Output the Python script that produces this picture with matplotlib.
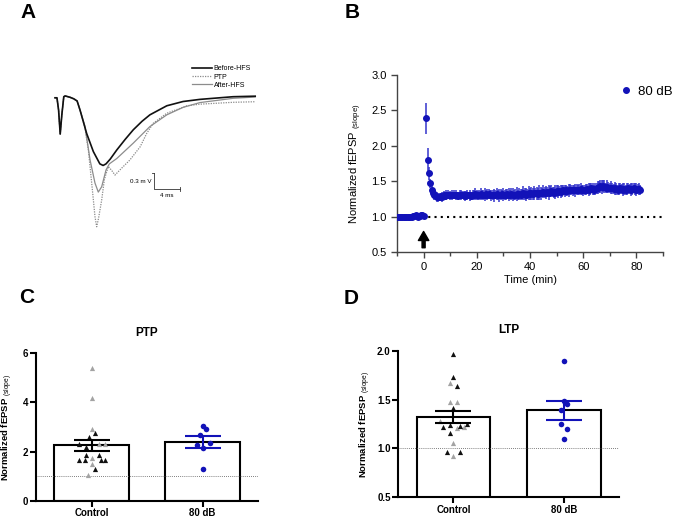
import numpy as np
import matplotlib
matplotlib.use('Agg')
import matplotlib.pyplot as plt
from matplotlib.lines import Line2D

plt.rcParams['font.family'] = ['Liberation Sans', 'DejaVu Sans']
plt.rcParams['mathtext.fontset'] = 'custom'
plt.rcParams['mathtext.rm'] = 'Liberation Sans'
plt.rcParams['mathtext.it'] = 'Liberation Sans:italic'
plt.rcParams['mathtext.bf'] = 'Liberation Sans:bold'

# Panel A: example fEPSP traces (time in ms, voltage in mV)
before_t = [0, 0.3, 0.55, 0.8, 1.05, 1.35, 1.55, 2.3, 2.9, 3.4, 3.85, 4.87, 5.9, 6.9, 7.4,
            7.85, 8.5, 9.5, 10.8, 12.05, 13.4, 14.6, 17.2, 19.7, 22.3, 27.4, 30.8]
before_v = [-0.02, -0.02, -0.25, -0.70, -0.34, 0.0, 0.015, -0.01, -0.04, -0.08, -0.25, -0.69,
            -1.03, -1.26, -1.29, -1.26, -1.17, -1.0, -0.80, -0.62, -0.46, -0.34, -0.17, -0.09,
            -0.05, 0.0, 0.01]
after_t = [0, 0.3, 0.55, 0.8, 1.05, 1.35, 1.55, 2.3, 2.9, 3.4, 3.85, 4.6, 5.4, 6.15, 6.66,
           7.18, 7.85, 8.36, 9.5, 12.05, 14.6, 17.2, 19.7, 22.3, 27.4, 30.8]
after_v = [-0.02, -0.02, -0.25, -0.70, -0.34, 0.0, 0.015, -0.01, -0.04, -0.08, -0.25, -0.55,
           -1.19, -1.62, -1.79, -1.69, -1.375, -1.26, -1.16, -0.87, -0.56, -0.34, -0.20, -0.11,
           -0.03, -0.006]
ptp_t = [0, 0.3, 0.55, 0.8, 1.05, 1.35, 1.55, 2.3, 2.9, 3.4, 3.85, 4.6, 5.13, 5.8, 6.15, 6.41,
         6.7, 7.18, 7.6, 8.2, 8.7, 9.23, 10.26, 11.5, 13.1, 14.1, 15.1, 17.2, 20.3, 22.3, 27.4, 30.8]
ptp_v = [-0.02, -0.02, -0.25, -0.70, -0.34, 0.0, 0.015, -0.01, -0.04, -0.08, -0.25, -0.58,
         -1.0, -1.81, -2.25, -2.44, -2.28, -1.94, -1.55, -1.31, -1.38, -1.47, -1.34, -1.19,
         -0.94, -0.69, -0.50, -0.31, -0.17, -0.14, -0.105, -0.094]
trace_labels = ['Before-HFS', 'PTP', 'After-HFS']

# Panel B: time course of normalized fEPSP slope (80 dB group)
pre_time = np.arange(-10, 0.5, 0.5)
pre_mean = [1.00, 1.00, 1.00, 1.00, 0.99, 1.00, 0.99, 1.00, 0.99, 1.00, 1.00, 1.00, 1.01,
            1.01, 1.02, 1.01, 1.00, 1.01, 1.02, 1.02, 1.01]
pre_sem = [0.01, 0.01, 0.01, 0.01, 0.01, 0.01, 0.01, 0.01, 0.01, 0.01, 0.01, 0.01, 0.01,
           0.01, 0.02, 0.01, 0.01, 0.01, 0.02, 0.01, 0.01]
post_time = np.arange(1, 82, 0.5)
post_mean = [
    2.39, 1.80, 1.61, 1.47, 1.37, 1.33, 1.30, 1.29, 1.28, 1.27,
    1.28, 1.29, 1.28, 1.30, 1.29, 1.30, 1.31, 1.30, 1.30, 1.31,
    1.30, 1.31, 1.30, 1.30, 1.29, 1.31, 1.30, 1.31, 1.30, 1.29,
    1.30, 1.31, 1.30, 1.30, 1.29, 1.30, 1.31, 1.32, 1.31, 1.30,
    1.31, 1.32, 1.31, 1.30, 1.31, 1.32, 1.31, 1.32, 1.31, 1.30,
    1.31, 1.30, 1.31, 1.32, 1.31, 1.30, 1.31, 1.32, 1.31, 1.30,
    1.31, 1.32, 1.31, 1.31, 1.32, 1.31, 1.30, 1.31, 1.32, 1.31,
    1.32, 1.31, 1.32, 1.33, 1.32, 1.31, 1.32, 1.33, 1.32, 1.33,
    1.32, 1.33, 1.34, 1.33, 1.32, 1.34, 1.33, 1.34, 1.35, 1.34,
    1.34, 1.35, 1.34, 1.35, 1.36, 1.35, 1.34, 1.35, 1.36, 1.35,
    1.36, 1.35, 1.36, 1.37, 1.36, 1.37, 1.36, 1.37, 1.38, 1.37,
    1.37, 1.38, 1.37, 1.38, 1.37, 1.38, 1.39, 1.38, 1.37, 1.38,
    1.38, 1.39, 1.38, 1.39, 1.40, 1.39, 1.38, 1.39, 1.40, 1.41,
    1.42, 1.43, 1.42, 1.43, 1.42, 1.41, 1.42, 1.41, 1.40, 1.41,
    1.40, 1.39, 1.40, 1.39, 1.38, 1.39, 1.40, 1.39, 1.38, 1.39,
    1.38, 1.39, 1.40, 1.39, 1.38, 1.39, 1.40, 1.39, 1.38, 1.39,
    1.39, 1.38]
post_sem = [
    0.22, 0.17, 0.09, 0.06, 0.06, 0.06, 0.07, 0.06, 0.07, 0.06,
    0.06, 0.05, 0.07, 0.06, 0.05, 0.07, 0.06, 0.05, 0.06, 0.07,
    0.05, 0.06, 0.07, 0.05, 0.06, 0.06, 0.07, 0.05, 0.06, 0.07,
    0.06, 0.07, 0.05, 0.08, 0.06, 0.07, 0.06, 0.08, 0.07, 0.06,
    0.07, 0.08, 0.06, 0.07, 0.09, 0.06, 0.08, 0.07, 0.06, 0.08,
    0.07, 0.09, 0.06, 0.08, 0.07, 0.09, 0.08, 0.06, 0.09, 0.07,
    0.08, 0.07, 0.09, 0.06, 0.08, 0.09, 0.07, 0.08, 0.10, 0.07,
    0.09, 0.08, 0.07, 0.10, 0.08, 0.09, 0.07, 0.10, 0.08, 0.09,
    0.08, 0.10, 0.07, 0.09, 0.08, 0.10, 0.09, 0.07, 0.09, 0.08,
    0.09, 0.07, 0.10, 0.08, 0.09, 0.07, 0.08, 0.10, 0.08, 0.09,
    0.07, 0.09, 0.08, 0.07, 0.09, 0.08, 0.07, 0.09, 0.08, 0.07,
    0.08, 0.07, 0.09, 0.08, 0.07, 0.08, 0.09, 0.07, 0.08, 0.07,
    0.08, 0.07, 0.09, 0.08, 0.07, 0.08, 0.07, 0.09, 0.08, 0.09,
    0.08, 0.09, 0.10, 0.08, 0.09, 0.07, 0.09, 0.08, 0.07, 0.09,
    0.08, 0.07, 0.09, 0.08, 0.07, 0.09, 0.08, 0.07, 0.09, 0.08,
    0.07, 0.09, 0.08, 0.07, 0.09, 0.08, 0.07, 0.08, 0.09, 0.07,
    0.08, 0.07]

# Panels C and D: group summaries
groups = ['Control', '80 dB']
ptp_mean = [2.25, 2.39]
ptp_sem = [0.22, 0.23]
ptp_ctrl_black_x = [0.036, -0.024, -0.114, -0.054, -0.05, 0.07, -0.11, -0.06, 0.09, 0.12, 0.036]
ptp_ctrl_black_y = [2.75, 2.61, 2.31, 2.20, 1.86, 1.86, 1.65, 1.65, 1.65, 1.67, 1.28]
ptp_ctrl_gray_x = [0.0, 0.0, 0.006, 0.066, 0.12, 0.0, 0.0, -0.03]
ptp_ctrl_gray_y = [5.39, 4.17, 2.91, 2.31, 2.31, 1.72, 1.49, 1.03]
ptp_db_x = [0.0, 0.03, -0.02, -0.054, 0.066, 0.006, 0.006]
ptp_db_y = [3.04, 2.91, 2.68, 2.27, 2.36, 2.14, 1.29]

ltp_mean = [1.32, 1.39]
ltp_sem = [0.06, 0.10]
ltp_ctrl_black_x = [0.0, 0.0, 0.03, 0.0, -0.091, -0.03, 0.061, 0.122, -0.03, -0.061, 0.061]
ltp_ctrl_black_y = [1.964, 1.728, 1.643, 1.411, 1.216, 1.24, 1.23, 1.25, 1.155, 0.967, 0.967]
ltp_ctrl_gray_x = [-0.03, -0.03, 0.03, -0.122, 0.03, 0.091, 0.0, 0.0]
ltp_ctrl_gray_y = [1.667, 1.479, 1.479, 1.281, 1.206, 1.22, 1.059, 0.923]
ltp_db_x = [0.0, 0.0, 0.03, -0.024, -0.024, 0.03, 0.0]
ltp_db_y = [1.895, 1.486, 1.455, 1.394, 1.25, 1.196, 1.094]

BLUE = '#1212b8'
LIGHT_BLUE = '#3434cc'
GRAY = '#a3a3a3'
W, H = 685, 517


def px_box(l, t, r, b):
    """Axes rectangle from pixel edges"""
    return [l / W, 1 - b / H, (r - l) / W, (b - t) / H]


fig = plt.figure(figsize=(W / 100, H / 100), dpi=100)

# ---- A ----
axA = fig.add_axes(px_box(45, 60, 265, 235))
axA.axis('off')
axA.set_xlim(-1.54, 32.31)
axA.set_ylim(-2.595, 0.689)
l_ptp, = axA.plot(ptp_t, ptp_v, color='#8a8a8a', lw=0.9, ls=(0, (1, 1)))
l_after, = axA.plot(after_t, after_v, color='#8c8c8c', lw=0.9)
l_before, = axA.plot(before_t, before_v, color='#111111', lw=1.2)
# scale bar
axA.plot([15.23, 15.23, 19.23], [-1.437, -1.737, -1.737], color='#333333', lw=0.6)
axA.plot([19.23, 19.23], [-1.70, -1.77], color='#333333', lw=0.6)
axA.plot([14.9, 15.23], [-1.437, -1.437], color='#333333', lw=0.6)
axA.text(14.8, -1.595, '0.3 m V', fontsize=4.5, ha='right', va='center')
axA.text(17.2, -1.80, '4 ms', fontsize=4.5, ha='center', va='top')
fig.legend([l_before, l_ptp, l_after], trace_labels, loc='upper left',
           bbox_to_anchor=(191.7 / W, 1 - 65.5 / H), frameon=False, fontsize=5,
           handlelength=2.9, handletextpad=0.25, labelspacing=0.15, borderpad=0,
           borderaxespad=0)

# ---- B ----
axB = fig.add_axes(px_box(397, 75, 663, 252))
axB.hlines(1.0, -10, 90, colors='black', linestyles=(0, (1, 2)), lw=1.5, zorder=1)
axB.errorbar(pre_time, pre_mean, yerr=pre_sem, fmt='o', ms=4, color=BLUE,
             ecolor=LIGHT_BLUE, elinewidth=1.1, capsize=0, zorder=3)
axB.errorbar(post_time, post_mean, yerr=post_sem, fmt='o', ms=4, color=BLUE,
             ecolor=LIGHT_BLUE, elinewidth=1.1, capsize=0, zorder=3)
axB.annotate('', xy=(0, 0.79), xytext=(0, 0.56),
             arrowprops=dict(width=2.2, headwidth=7.5, headlength=6.5, color='black', shrink=0))
axB.set_xlim(-10, 90)
axB.set_ylim(0.5, 3.0)
axB.set_xticks([0, 20, 40, 60, 80])
axB.set_xticks([-10, 10, 30, 50, 70, 90], minor=True)
axB.set_yticks([0.5, 1.0, 1.5, 2.0, 2.5, 3.0])
axB.set_yticklabels(['0.5', '1.0', '1.5', '2.0', '2.5', '3.0'])
for side in ['top', 'right']:
    axB.spines[side].set_visible(False)
for side in ['left', 'bottom']:
    axB.spines[side].set_color('#444444')
    axB.spines[side].set_linewidth(1.0)
axB.tick_params(which='major', length=4, width=1.0, color='#444444', labelsize=8)
axB.tick_params(which='minor', length=3, width=1.0, color='#444444')
axB.set_xlabel('Time (min)', fontsize=8, labelpad=2)
axB.set_ylabel('Normalized fEPSP $_{\\rm (slope)}$', fontsize=8)
axB.yaxis.set_label_coords(-0.125, 0.5)
axB.legend([Line2D([], [], ls='none', marker='o', ms=4, color=BLUE)], ['80 dB'],
           loc='center left', bbox_to_anchor=(619.4 / W, 1 - 92 / H),
           bbox_transform=fig.transFigure, frameon=False, fontsize=9.5,
           handlelength=1, handletextpad=0.4, borderpad=0, borderaxespad=0)


# ---- C and D ----
def summary_panel(ax, means, sems, bx, by, gx, gy, dx, dy, yticks, ylabels, title, title_y):
    x = np.arange(len(groups))
    ax.bar(x, means, width=0.67, color='white', edgecolor='black', lw=1.5, zorder=1)
    ax.axhline(1.0, color='#555555', lw=0.6, ls=(0, (1, 1.5)), zorder=2)
    ax.scatter(x[0] + np.array(gx), gy, marker='^', s=14, color=GRAY, lw=0, zorder=3)
    ax.scatter(x[0] + np.array(bx), by, marker='^', s=14, color='#111111', lw=0, zorder=3)
    ax.scatter(x[1] + np.array(dx), dy, marker='o', s=16, color=BLUE, lw=0, zorder=3)
    ax.errorbar(x[0], means[0], yerr=sems[0], fmt='none', ecolor='black', elinewidth=1.5,
                capsize=13, capthick=1.5, zorder=4)
    ax.errorbar(x[1], means[1], yerr=sems[1], fmt='none', ecolor=BLUE, elinewidth=1.5,
                capsize=13, capthick=1.5, zorder=4)
    ax.set_xlim(-0.5, 1.5)
    ax.set_ylim(yticks[0], yticks[-1])
    ax.set_xticks(x)
    ax.set_xticklabels(groups, fontweight='bold', fontsize=7)
    ax.set_yticks(yticks)
    ax.set_yticklabels(ylabels, fontweight='bold', fontsize=7)
    for side in ['top', 'right']:
        ax.spines[side].set_visible(False)
    for side in ['left', 'bottom']:
        ax.spines[side].set_linewidth(1.5)
    ax.tick_params(length=4, width=1.5, pad=1.5)
    ax.set_ylabel('Normalized fEPSP $_{\\rm (slope)}$', fontsize=6.8, fontweight='bold')
    pos = ax.get_position()
    fig.text(pos.x0 + pos.width / 2, 1 - title_y / H, title, fontsize=8.5,
             fontweight='bold', ha='center', va='center')


axC = fig.add_axes(px_box(36, 353.3, 258, 500.7))
summary_panel(axC, ptp_mean, ptp_sem, ptp_ctrl_black_x, ptp_ctrl_black_y,
              ptp_ctrl_gray_x, ptp_ctrl_gray_y, ptp_db_x, ptp_db_y,
              [0, 2, 4, 6], ['0', '2', '4', '6'], 'PTP', 333)
axC.yaxis.set_label_coords(-0.093, 0.5)

axD = fig.add_axes(px_box(398.3, 350.7, 619, 497.3))
summary_panel(axD, ltp_mean, ltp_sem, ltp_ctrl_black_x, ltp_ctrl_black_y,
              ltp_ctrl_gray_x, ltp_ctrl_gray_y, ltp_db_x, ltp_db_y,
              [0.5, 1.0, 1.5, 2.0], ['0.5', '1.0', '1.5', '2.0'], 'LTP', 330)
axD.yaxis.set_label_coords(-0.115, 0.5)

# panel letters
for letter, (lx, ly) in zip('ABCD', [(28, 13), (352, 13), (26.5, 297.5), (351.5, 299)]):
    fig.text(lx / W, 1 - ly / H, letter, fontsize=15, fontweight='bold', ha='center', va='center')

fig.savefig('out.png', dpi=100)
